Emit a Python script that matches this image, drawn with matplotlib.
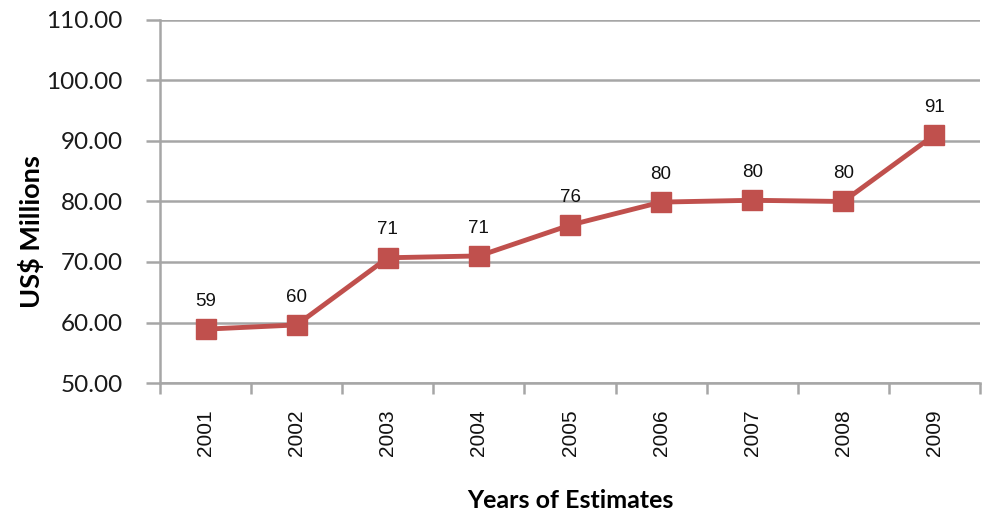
import matplotlib
matplotlib.use("Agg")
import matplotlib.pyplot as plt
import numpy as np

years = ["2001", "2002", "2003", "2004", "2005", "2006", "2007", "2008", "2009"]
values = [58.9, 59.6, 70.7, 71.0, 76.1, 79.9, 80.2, 80.0, 91.0]
labels = ["59", "60", "71", "71", "76", "80", "80", "80", "91"]
yticks = [50, 60, 70, 80, 90, 100, 110]

red = "#c0504d"
gray = "#a6a6a6"

fig = plt.figure(figsize=(9.86, 5.15), dpi=100)
ax = fig.add_axes([0.1623, 0.2563, 0.8316, 0.7049])

x = np.arange(len(years))
ax.plot(x, values, color=red, lw=3.5, marker="s", ms=15, mfc=red, mec=red, zorder=3)
for xi, v, t in zip(x, values, labels):
    ax.annotate(t, (xi, v), xytext=(0, 20), textcoords="offset points",
                ha="center", va="center", fontsize=13.5, family="Liberation Sans",
                color="#111111")

ax.set_xlim(-0.5, len(years) - 0.5)
ax.set_ylim(50, 110)
ax.set_yticks(yticks)
ax.set_yticklabels([f"{v:.2f}" for v in yticks], fontsize=17.5, family="Lato",
                   color="#1a1a1a")
ax.set_xticks(x)
ax.set_xticklabels(years, rotation=90, fontsize=15, family="Liberation Sans",
                   color="#111111")
ax.set_xticks(np.arange(-0.5, len(years)), minor=True)
ax.tick_params(axis="x", which="major", length=0, pad=19)
ax.tick_params(axis="x", which="minor", length=8, width=1.8, color=gray)
ax.tick_params(axis="y", length=10, width=1.8, color=gray, pad=17)

ax.grid(axis="y", color=gray, lw=1.8)
ax.set_axisbelow(True)
for s in ["top", "right"]:
    ax.spines[s].set_visible(False)
for s in ["left", "bottom"]:
    ax.spines[s].set_color(gray)
    ax.spines[s].set_linewidth(1.8)

fig.text(31 / 986, 1 - 232 / 515, "US$ Millions", rotation=90, fontsize=19.5,
         fontweight="bold", family="Lato", ha="center", va="center")
fig.text(570 / 986, 1 - 500 / 515, "Years of Estimates", fontsize=18,
         fontweight="bold", family="Lato", ha="center", va="center")

fig.savefig("out.png", dpi=100)
